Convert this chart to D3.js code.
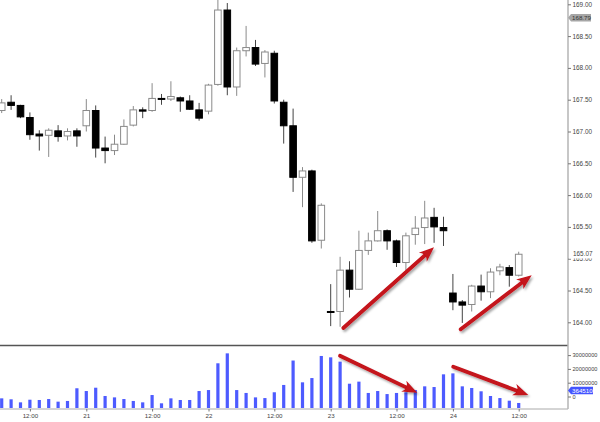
<!DOCTYPE html>
<html>
<head>
<meta charset="utf-8">
<script src="https://cdn.jsdelivr.net/npm/d3@7/dist/d3.min.js"></script>
<style>
  html, body { margin: 0; padding: 0; background: #fff; }
  svg { display: block; font-family: "Liberation Sans", Arial, sans-serif; }
</style>
</head>
<body>
<svg id="chart" width="600" height="422"></svg>
<script>
// ---------------- DATA ----------------
const opens = [167.33,167.46,167.41,167.22,166.96,166.94,167.01,166.93,167.01,167.09,
  167.33,166.74,166.70,166.80,167.10,167.34,167.33,167.52,167.51,167.53,
  167.48,167.34,167.32,167.74,168.91,167.70,168.27,168.32,168.07,168.23,
  167.46,167.09,166.28,166.38,165.29,164.17,164.17,164.82,164.52,165.13,
  165.28,165.44,165.28,164.94,165.38,165.49,165.65,165.49,164.46,164.32,
  164.28,164.57,164.48,164.81,164.86,164.74];
const highs = [167.51,167.57,167.42,167.30,167.02,167.05,167.10,167.05,167.05,167.51,
  167.41,166.92,166.95,167.19,167.40,167.38,167.76,167.59,167.79,167.55,
  167.57,167.45,167.75,169.07,169.02,168.32,168.66,168.44,168.28,168.27,
  167.50,167.36,166.44,166.40,165.87,164.60,165.03,164.96,165.44,165.41,
  165.75,165.46,165.30,165.41,165.67,165.91,165.80,165.66,164.76,164.35,
  164.59,164.75,164.85,164.92,164.90,165.11];
const lows = [167.29,167.34,167.21,166.87,166.70,166.60,166.84,166.86,166.76,167.00,
  166.59,166.50,166.63,166.79,167.08,167.21,167.31,167.42,167.48,167.31,
  167.34,167.17,167.27,167.72,167.57,167.56,168.18,168.03,167.85,167.44,
  166.81,166.05,165.81,165.25,165.16,163.94,163.93,164.39,164.51,165.06,
  165.27,165.14,164.87,164.82,165.22,165.23,165.25,165.20,164.19,163.99,
  164.17,164.34,164.38,164.74,164.56,164.72];
const closes = [167.45,167.41,167.23,166.95,166.93,167.02,166.92,167.00,166.93,167.33,
  166.74,166.70,166.80,167.08,167.34,167.32,167.52,167.51,167.55,167.48,
  167.35,167.21,167.73,168.91,167.70,168.27,168.32,168.06,168.25,167.48,
  167.09,166.28,166.38,165.28,165.84,164.16,164.82,164.52,165.13,165.28,
  165.44,165.28,164.94,165.36,165.48,165.64,165.50,165.44,164.32,164.27,
  164.57,164.48,164.79,164.87,164.74,165.07];
const volumes = [7000000,6300000,4100000,6000000,5800000,6500000,4600000,5100000,14300000,12300000,
  14700000,8700000,7700000,6500000,5100000,4100000,9400000,3400000,7000000,5800000,
  5800000,12300000,13000000,32400000,39600000,13000000,10900000,7700000,7200000,11400000,
  16700000,34400000,18600000,21700000,37700000,36700000,33600000,17600000,19100000,10900000,
  12300000,10100000,10900000,11400000,13000000,15700000,15200000,24400000,25100000,15700000,
  14500000,12100000,8700000,7200000,5300000,3645106];

const xTickIndex  = [3, 9, 16, 22, 29, 35, 42, 48, 55];
const xTickLabels = ["12:00","21","12:00","22","12:00","23","12:00","24","12:00"];
const priceTicks  = [164.0,164.5,165.0,165.5,166.0,166.5,167.0,167.5,168.0,168.5,169.0];
const volumeTicks = [0, 10000000, 20000000, 30000000];
const markPrice   = 168.79;   // grey price tag
const lastPrice   = 165.07;   // last close tag
const lastVolume  = 3645106;  // blue volume tag

// annotation arrows in data space [index, value]
const priceArrows  = [[[36.34,163.91],[45.99,165.18]], [[48.83,163.89],[56.38,164.74]]];
const volumeArrows = [[[35.99,37.9e6],[44.21,11.1e6]], [[48.04,29.9e6],[56.02,9.4e6]]];

// ---------------- LAYOUT ----------------
const svg = d3.select("#chart");
const axisX = 568;
const n = opens.length;

const x = d3.scaleLinear().domain([0, n - 1]).range([1.7, 1.7 + 9.4 * (n - 1)]);
const y = d3.scaleLinear().domain([164, 169]).range([322.3, 4.3]);
const yv = d3.scaleLinear().domain([0, 40000000]).range([408, 352.8]);

const defs = svg.append("defs");
const clip = defs.append("clipPath").attr("id", "plotclip");
clip.append("rect").attr("x", 0).attr("y", 0).attr("width", axisX).attr("height", 344);
const clipV = defs.append("clipPath").attr("id", "volclip");
clipV.append("rect").attr("x", 0).attr("y", 346).attr("width", axisX).attr("height", 62);
const f = defs.append("filter").attr("id", "shadow").attr("x", "-20%").attr("y", "-20%").attr("width", "140%").attr("height", "140%");
f.append("feDropShadow").attr("dx", 1.5).attr("dy", 2).attr("stdDeviation", 1.2)
  .attr("flood-color", "#000").attr("flood-opacity", 0.35);

const data = opens.map((o, i) => ({i, o, h: highs[i], l: lows[i], c: closes[i], v: volumes[i]}));

// ---------------- CANDLES ----------------
const cg = svg.append("g").attr("clip-path", "url(#plotclip)");
const bw = 6.6;
const cand = cg.selectAll("g.c").data(data).join("g");
cand.append("line")
  .attr("x1", d => x(d.i)).attr("x2", d => x(d.i))
  .attr("y1", d => y(d.h)).attr("y2", d => y(d.l))
  .attr("stroke", d => d.c >= d.o ? "#8a8a8a" : "#444").attr("stroke-width", 1);
cand.append("rect")
  .attr("x", d => x(d.i) - bw / 2)
  .attr("width", bw)
  .attr("y", d => y(Math.max(d.o, d.c)))
  .attr("height", d => Math.max(1, Math.abs(y(d.o) - y(d.c))))
  .attr("fill", d => d.c >= d.o ? "#fff" : "#000")
  .attr("stroke", d => d.c >= d.o ? "#8a8a8a" : "#000")
  .attr("stroke-width", 1);

// ---------------- VOLUME ----------------
const vg = svg.append("g").attr("clip-path", "url(#volclip)");
vg.selectAll("rect").data(data).join("rect")
  .attr("x", d => x(d.i) - 1.6).attr("width", 3.2)
  .attr("y", d => yv(d.v)).attr("height", d => yv(0) - yv(d.v))
  .attr("fill", "#4d5bff");

// separator & frames
svg.append("line").attr("x1", 0).attr("x2", axisX).attr("y1", 345.5).attr("y2", 345.5)
  .attr("stroke", "#555").attr("stroke-width", 1.5);
svg.append("line").attr("x1", 0).attr("x2", axisX).attr("y1", 409).attr("y2", 409)
  .attr("stroke", "#aaa").attr("stroke-width", 1);
svg.append("line").attr("x1", axisX).attr("x2", axisX).attr("y1", 0).attr("y2", 409)
  .attr("stroke", "#b4b4b4").attr("stroke-width", 1.5);

// ---------------- AXES ----------------
const pa = svg.append("g").attr("transform", `translate(${axisX},0)`)
  .call(d3.axisRight(y).tickValues(priceTicks).tickFormat(d3.format(".2f")).tickSize(3).tickPadding(1.5));
pa.select(".domain").remove();
pa.selectAll("line").attr("stroke", "#777");
pa.selectAll("text").attr("fill", "#444").style("font-size", "6.4px");

const va = svg.append("g").attr("transform", `translate(${axisX},-11.5)`)
  .call(d3.axisRight(yv).tickValues(volumeTicks).tickFormat(d3.format("d")).tickSize(3).tickPadding(1.5));
va.select(".domain").remove();
va.selectAll("line").attr("stroke", "#777");
va.selectAll("text").attr("fill", "#444").style("font-size", "5.6px");

const xa = svg.append("g").attr("transform", "translate(0,409)")
  .call(d3.axisBottom(x).tickValues(xTickIndex).tickFormat((d, k) => xTickLabels[k]).tickSize(2.5).tickPadding(2));
xa.select(".domain").remove();
xa.selectAll("line").attr("stroke", "#777");
xa.selectAll("text").attr("fill", "#444").style("font-size", "6.2px");

// ---------------- TAGS ----------------
function tag(yPos, label, bg, fg, w) {
  const g = svg.append("g");
  const h = 7.5;
  g.append("path")
    .attr("d", `M${axisX},${yPos} L${axisX + 3},${yPos - h / 2} L${axisX + 3 + w},${yPos - h / 2} L${axisX + 3 + w},${yPos + h / 2} L${axisX + 3},${yPos + h / 2} Z`)
    .attr("fill", bg);
  g.append("text").attr("x", axisX + 4).attr("y", yPos).attr("dy", "0.35em")
    .attr("fill", fg).style("font-size", "6.2px").text(label);
}
tag(y(markPrice), d3.format(".2f")(markPrice), "#a6a6a6", "#333", 20);
// last price: white box covering the 165.00 label partly
svg.append("rect").attr("x", axisX + 1).attr("y", y(lastPrice) - 4.2).attr("width", 28).attr("height", 8.4).attr("fill", "#fff");
svg.append("text").attr("x", axisX + 5).attr("y", y(lastPrice) - 0.8).attr("dy", "0.35em")
  .attr("fill", "#444").style("font-size", "6.4px").text(d3.format(".2f")(lastPrice));
tag(yv(lastVolume) - 12.5, String(lastVolume), "#4455ff", "#fff", 22);

// ---------------- ARROWS ----------------
function arrow(p0, p1) {
  const [x0, y0] = p0, [x1, y1] = p1;
  const dx = x1 - x0, dy = y1 - y0, L = Math.hypot(dx, dy);
  const ux = dx / L, uy = dy / L, nx = -uy, ny = ux;
  const hl = 13, hw = 6;
  const bx = x1 - ux * hl, by = y1 - uy * hl;
  const g = svg.append("g").attr("filter", "url(#shadow)");
  g.append("line").attr("x1", x0).attr("y1", y0).attr("x2", bx + ux * 3).attr("y2", by + uy * 3)
    .attr("stroke", "#c4121a").attr("stroke-width", 3.8).attr("stroke-linecap", "round");
  g.append("path")
    .attr("d", `M${x1},${y1} L${bx + nx * hw - ux * 2},${by + ny * hw - uy * 2} Q${bx + ux * 4},${by + uy * 4} ${bx - nx * hw - ux * 2},${by - ny * hw - uy * 2} Z`)
    .attr("fill", "#c4121a");
}
priceArrows.forEach(a => arrow([x(a[0][0]), y(a[0][1])], [x(a[1][0]), y(a[1][1])]));
volumeArrows.forEach(a => arrow([x(a[0][0]), yv(a[0][1])], [x(a[1][0]), yv(a[1][1])]));
</script>
</body>
</html>
